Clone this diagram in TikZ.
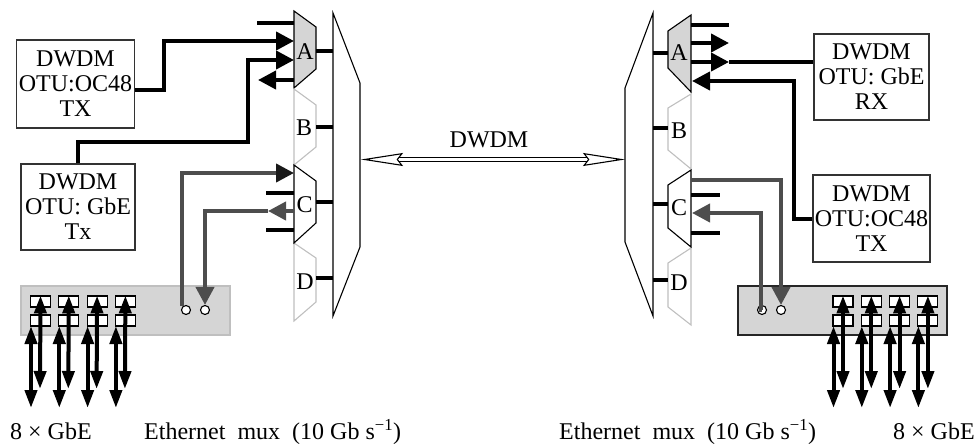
\documentclass[tikz,border=0pt]{standalone}
\usepackage{fontspec}
\setmainfont{Liberation Serif}
\usetikzlibrary{arrows.meta}
\definecolor{muxgray}{HTML}{D5D5D5}
\definecolor{linegray}{HTML}{4D4D4D}

\begin{document}
\begin{tikzpicture}
	[x=1pt,y=-1pt,font=\fontsize{24}{25}\selectfont]

	\tikzstyle{otubox} = [rectangle, draw=black!80, line width=1.1pt, inner sep=0pt, align=center, text depth=0pt]
	\tikzstyle{muxon} = [draw=black, line width=1.1pt, fill=muxgray, line join=miter]
	\tikzstyle{muxwhite} = [draw=black, line width=1.1pt, fill=white]
	\tikzstyle{muxoff} = [draw=black!25, line width=1.1pt]
	\tikzstyle{demux} = [draw=black, line width=1.1pt]
	\tikzstyle{stub} = [draw=black, line width=4pt]
	\tikzstyle{arrow} = [line width=4pt, -{Triangle[length=18pt,width=18pt]}]
	\tikzstyle{both} = [line width=4pt, {Triangle[length=18pt,width=12pt]}-{Triangle[length=18pt,width=12pt]}]
	\tikzstyle{grayline} = [line width=4pt, draw=linegray]
	\tikzstyle{grayarrow} = [grayline, -{Triangle[length=18pt,width=18pt,color=linegray]}]
	\tikzstyle{darkarrow} = [grayline, -{Triangle[length=18pt,width=18pt,color=black!90]}]
	\tikzstyle{port} = [circle, draw=black, fill=white, line width=1.1pt, minimum size=9pt, inner sep=0pt]
	\tikzstyle{socket} = [rectangle, draw=black, fill=white, line width=1.1pt, minimum width=20pt, minimum height=11pt, inner sep=0pt]
	\tikzstyle{line} = [double, double distance=2.6pt, line width=1.1pt, {Stealth[length=42pt,width=13pt,inset=5pt,fill=white,line width=1.1pt]}-{Stealth[length=42pt,width=13pt,inset=5pt,fill=white,line width=1.1pt]}]

	\useasboundingbox (0,0) rectangle (974,444);

	% line cards
	\node (leftcard) [rectangle, draw=black!25, fill=muxgray, line width=1.1pt, minimum width=209pt, minimum height=49pt] at (125.5,310.5) {};
	\node (rightcard) [rectangle, draw=black!85, fill=muxgray, line width=1.1pt, minimum width=209pt, minimum height=49pt] at (842.5,310.5) {};

	% transponders
	\node (oct) [otubox, minimum width=118pt, minimum height=88pt] at (75.5,84) {DWDM\\OTU:OC48\\TX};
	\node (gbt) [otubox, minimum width=114pt, minimum height=86pt] at (78,207) {DWDM\\OTU: GbE\\Tx};
	\node (gbr) [otubox, minimum width=115pt, minimum height=86pt] at (871.5,77) {DWDM\\OTU: GbE\\RX};
	\node (ocr) [otubox, minimum width=117pt, minimum height=87pt] at (871.5,218.5) {DWDM\\OTU:OC48\\TX};

	% left muxes
	\draw [muxon] (294,11) -- (316,27) -- (316,69) -- (294,88) -- cycle;
	\draw [muxoff] (294,89) -- (316,105) -- (316,147) -- (294,165) -- cycle;
	\draw [muxoff] (294,243) -- (316,258) -- (316,302) -- (294,321) -- cycle;
	\draw [muxwhite] (294,165) -- (316,181) -- (316,223) -- (294,243) -- cycle;
	\draw [demux] (333,13) -- (360,83) -- (360,247) -- (333,316) -- cycle;
	\node (la) at (305,52) {A};
	\node (lb) at (304,128) {B};
	\node (lc) at (304.5,205) {C};
	\node (ld) at (305,282) {D};

	% right muxes
	\draw [muxon] (691,15) -- (668,31) -- (668,68) -- (691,92) -- cycle;
	\draw [muxoff] (691,94) -- (668,108) -- (668,150) -- (691,169) -- cycle;
	\draw [muxoff] (691,248) -- (668,263) -- (668,307) -- (691,325) -- cycle;
	\draw [muxwhite] (691,170) -- (668,185) -- (668,228) -- (691,247) -- cycle;
	\draw [demux] (653,13) -- (625,88) -- (625,242) -- (653,316) -- cycle;
	\node (ra) at (679,53) {A};
	\node (rb) at (679,131) {B};
	\node (rc) at (679,208) {C};
	\node (rd) at (679,283) {D};

	% short stubs
	\foreach \n/\xa/\ya/\xb in {sa/316/51/333, sb/316/127/333, sc/316/202/333, sd/316/278/333,
		ta/653/53/668, tb/653/128/668, tc/653/204/668, td/653/280/668,
		ua/257/23/294, uc/266/193/294, ud/266/230/294,
		va/691/25/729, vc/691/195/720, vd/691/233/720}
	{
		\coordinate (\n1) at (\xa,\ya);
		\coordinate (\n2) at (\xb,\ya);
		\draw [stub] (\n1) -- (\n2);
	}

	% client ports
	\node (lp1) [port] at (186,310) {};
	\node (lp2) [port] at (205,310) {};
	\node (rp1) [port] at (762,310) {};
	\node (rp2) [port] at (781,310) {};

	\foreach \i in {0,...,3}
	{
		\node (ltop\i) [socket] at (40.5+28.3*\i,301.5) {};
		\node (lbot\i) [socket] at (40.5+28.3*\i,320.5) {};
		\node (rtop\i) [socket] at (843+28.3*\i,301.5) {};
		\node (rbot\i) [socket] at (843+28.3*\i,320.5) {};
		\coordinate (lend\i) at (31+28.3*\i,408);
		\coordinate (lmid\i) at (40+28.3*\i,389);
		\coordinate (rend\i) at (833.5+28.3*\i,408);
		\coordinate (rmid\i) at (843+28.3*\i,389);
		\draw [both] ([xshift=-9.5pt,yshift=-5.5pt]lbot\i.center) -- (lend\i);
		\draw [both] (ltop\i.north) -- (lmid\i);
		\draw [both] ([xshift=-9.5pt,yshift=-5.5pt]rbot\i.center) -- (rend\i);
		\draw [both] (rtop\i.north) -- (rmid\i);
	}

	% left connectors
	\coordinate (ain1) at (294,41);
	\coordinate (ain2) at (294,60);
	\coordinate (aout) at (294,80);
	\coordinate (afree) at (258,80);
	\coordinate (cin) at (294,173);
	\coordinate (cout) at (294,211);
	\coordinate (ctip) at (268,211);
	\draw [arrow] ([yshift=-6pt]oct.east) -- ++(29,0) |- (ain1);
	\draw [arrow] (gbt.north) -- ++(0,-21) -- ++(170,0) |- (ain2);
	\draw [arrow] (aout) -- (afree);
	\draw [darkarrow] (lp1.135) |- (cin);
	\draw [grayarrow] (ctip) -| (lp2.north);
	\draw [grayarrow] (cout) -- (ctip);

	% right connectors
	\coordinate (bout1) at (691,43);
	\coordinate (bfree) at (729,43);
	\coordinate (bout2) at (691,62);
	\coordinate (bin2) at (729,62);
	\coordinate (bin) at (692,81);
	\coordinate (dout) at (691,180);
	\coordinate (din) at (692,213);
	\draw [arrow] (bout1) -- (bfree);
	\draw [arrow] (bout2) -- (bin2);
	\draw [line width=3.5pt] (bin2) -- (bin2 -| gbr.west);
	\draw [arrow] (ocr.west) -- ++(-18,0) |- (bin);
	\draw [grayarrow] (dout) -| (rp2.north);
	\draw [grayarrow] (rp1.center) -- ++(-1,0) |- (din);

	% line between the terminals
	\coordinate (wleft) at (361,159.5);
	\coordinate (wright) at (625,159.5);
	\draw [line] (wleft) -- (wright);
	\node (dwdm) at (489,140) {DWDM};

	% captions
	\node (gbl) [anchor=base west, inner sep=0pt] at (10,439.5) {8 × GbE};
	\node (capl) [anchor=base west, inner sep=0pt] at (144,439.5) {Ethernet\ \ mux\ \ (10 Gb s\textsuperscript{−1})};
	\node (capr) [anchor=base west, inner sep=0pt] at (559,439.5) {Ethernet\ \ mux\ \ (10 Gb s\textsuperscript{−1})};
	\node (gbr2) [anchor=base west, inner sep=0pt] at (893,439.5) {8 × GbE};
\end{tikzpicture}
\end{document}
